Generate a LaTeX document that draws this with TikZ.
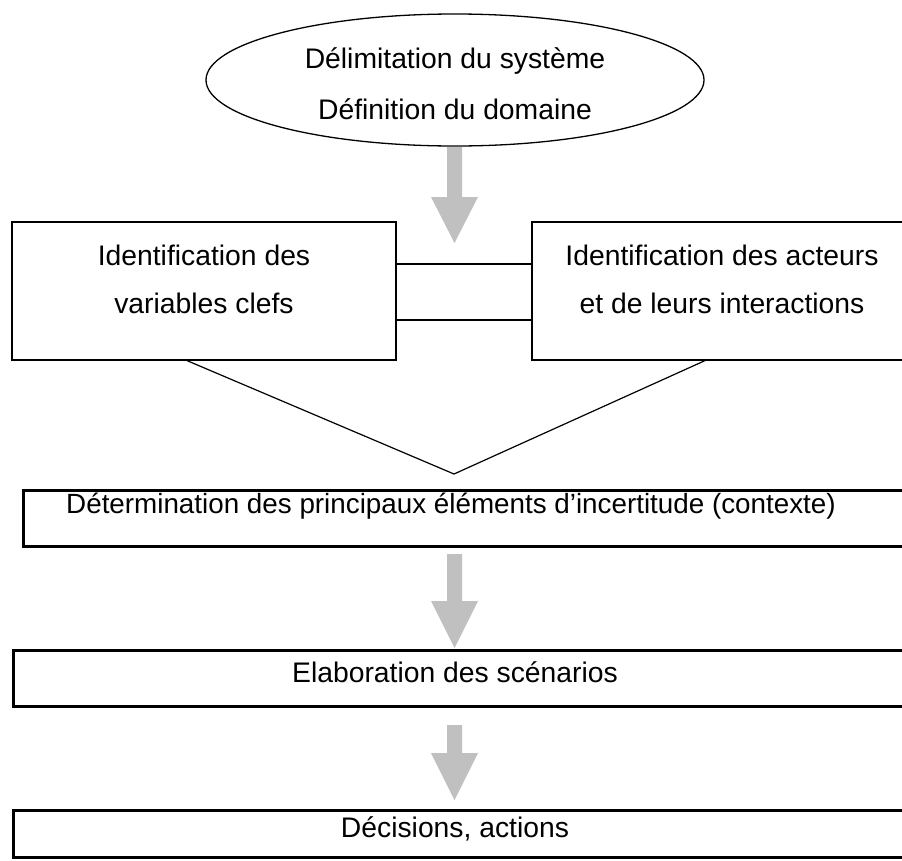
\documentclass[tikz,border=0pt]{standalone}
\usepackage{fontspec}
\setmainfont{Liberation Sans}
\usetikzlibrary{shapes.geometric,calc}
\definecolor{arrowgray}{RGB}{192,192,192}
\tikzset{
  txt/.style={anchor=base, inner sep=0pt, font=\fontsize{28.3}{30}\selectfont},
  thinbox/.style={draw, line width=1.2pt, inner sep=0pt},
  thickbox/.style={draw, line width=3pt, inner sep=0pt},
  blockarrow/.style={fill=arrowgray, draw=none},
  link/.style={draw, line width=1.2pt}
}
\begin{document}
\begin{tikzpicture}[x=1pt,y=-1pt]
\useasboundingbox (0,0) rectangle (902,860);
\clip (0,0) rectangle (902,860);
\fill[white] (0,0) rectangle (902,860);

% ellipse
\node[ellipse, draw, line width=1.3pt, minimum width=498pt, minimum height=132pt, inner sep=0pt] (sys) at (455,80) {};
\node[txt] (t1) at (455,68) {Délimitation du système};
\node[txt] (t2) at (455,119) {Définition du domaine};

% arrow 1
\fill[blockarrow] (447,147) -- (462,147) -- (462,197) -- (478,197) -- (454.5,243) -- (431,197) -- (447,197) -- cycle;

% two boxes
\node[thinbox, minimum width=384pt, minimum height=138pt] (L) at (204,291) {};
\node[thinbox, minimum width=380pt, minimum height=138pt] (R) at (722,291) {};
\node[txt] (l1) at (204,265) {Identification des};
\node[txt] (l2) at (204,313) {variables clefs};
\node[txt] (r1) at (722,265) {Identification des acteurs};
\node[txt] (r2) at (722,313) {et de leurs interactions};

\draw[link] ($(L.east)+(0,-27)$) -- ($(R.west)+(0,-27)$);
\draw[link] ($(L.east)+(0,29)$) -- ($(R.west)+(0,29)$);

% V
\coordinate (apex) at (454,474);
\draw[link] ($(L.south)+(-17,0)$) -- (apex) -- ($(R.south)+(-17,0)$);

% box 3
\node[thickbox, minimum width=889pt, minimum height=56pt] (B3) at (467.5,518) {};
\node[txt, font=\fontsize{27.8}{30}\selectfont] (b3t) at (451,513) {Détermination des principaux éléments d’incertitude (contexte)};

% arrow 2
\fill[blockarrow] (447,554) -- (462,554) -- (462,601) -- (478,601) -- (454.5,648) -- (431,601) -- (447,601) -- cycle;

% box 4
\node[thickbox, minimum width=899pt, minimum height=56pt] (B4) at (462.5,678) {};
\node[txt] (b4t) at (455,682) {Elaboration des scénarios};

% arrow 3
\fill[blockarrow] (447,725) -- (462,725) -- (462,753) -- (478,753) -- (454.5,800) -- (431,753) -- (447,753) -- cycle;

% box 5
\node[thickbox, minimum width=899pt, minimum height=47pt] (B5) at (462.5,833.5) {};
\node[txt] (b5t) at (455,837) {Décisions, actions};
\end{tikzpicture}
\end{document}
